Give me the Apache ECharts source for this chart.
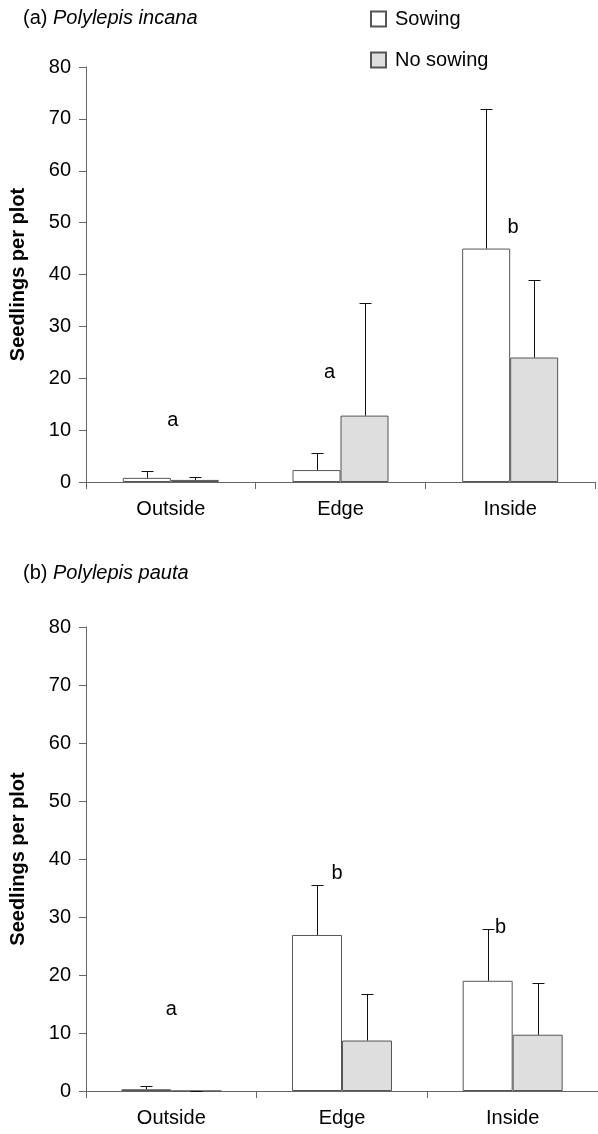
<!DOCTYPE html>
<html><head><meta charset="utf-8">
<script src="https://cdn.jsdelivr.net/npm/echarts@6/dist/echarts.min.js"></script>
<style>html,body{margin:0;padding:0;background:#fff}#c{width:598px;height:1134px}</style>
</head><body><div id="c"></div>
<script>
const categories = ['Outside', 'Edge', 'Inside'];
const seriesNames = ['Sowing', 'No sowing'];
const yTicks = { min: 0, max: 80, interval: 10 };

// Panel (a) Polylepis incana
const aSowing = [0.8, 2.3, 45];
const aSowingErr = [1.3, 3.3, 27];
const aNoSowing = [0.4, 12.8, 24];
const aNoSowingErr = [0.6, 21.7, 15];
const aLetters = [['a', 11.9], ['a', 21.2], ['b', 49]];

// Panel (b) Polylepis pauta
const bSowing = [0.3, 26.9, 19.0];
const bSowingErr = [0.6, 8.7, 9.0];
const bNoSowing = [0, 8.7, 9.7];
const bNoSowingErr = [0.05, 8.0, 9.0];
const bLetters = [['a', 14.1], ['b', 37.5], ['b', 28.2]];

// style-only offsets for the letters (pixels)
const aLetterDx = [2, -11, 3];
const bLetterDx = [0, -5, -12];

const FONT = 'Liberation Sans, Arial, Helvetica, sans-serif';
const AXIS_COLOR = '#666';
const BORDER = '#555';
const GRAY_FILL = '#dedede';

const chart = echarts.init(document.getElementById('c'), null, { renderer: 'canvas' });

function errSeries(name, grid, means, errs, offset) {
  return {
    type: 'custom', name: name + ' err', xAxisIndex: grid, yAxisIndex: grid, z: 5,
    silent: true,
    data: means.map((m, i) => [i, m, errs[i]]),
    renderItem: function (params, api) {
      const i = api.value(0), m = api.value(1), e = api.value(2);
      const p0 = api.coord([i, m]);
      const p1 = api.coord([i, m + e]);
      const x = Math.round(p0[0] + offset) + 0.5;
      const y1 = Math.round(p1[1]) + 0.5;
      const children = [
        { type: 'line', shape: { x1: x, y1: p0[1], x2: x, y2: y1 }, style: { stroke: '#111', lineWidth: 1 } },
        { type: 'line', shape: { x1: x - 6, y1: y1, x2: x + 6, y2: y1 }, style: { stroke: '#111', lineWidth: 1 } }
      ];
      return { type: 'group', children: children };
    }
  };
}

function letterSeries(grid, letters, dx) {
  return {
    type: 'custom', xAxisIndex: grid, yAxisIndex: grid, z: 6, silent: true,
    data: letters.map((l, i) => [i, l[1], l[0]]),
    renderItem: function (params, api) {
      const p = api.coord([api.value(0), api.value(1)]);
      return {
        type: 'text', x: p[0] + dx[params.dataIndex], y: p[1],
        style: { text: letters[params.dataIndex][0], fill: '#000', font: '20px ' + FONT, align: 'center', verticalAlign: 'middle' }
      };
    }
  };
}

function barSeries(name, grid, data, fill, width) {
  return {
    type: 'bar', name: name, xAxisIndex: grid, yAxisIndex: grid, data: data,
    barWidth: width, barGap: '0%',
    itemStyle: { color: fill, borderColor: BORDER, borderWidth: 1 },
    emphasis: { disabled: true }, z: 3
  };
}

function xAxis(grid) {
  return {
    type: 'category', gridIndex: grid, data: categories,
    axisLine: { lineStyle: { color: AXIS_COLOR, width: 1 } },
    axisTick: { show: true, length: 7, lineStyle: { color: AXIS_COLOR } },
    axisLabel: { color: '#000', fontSize: 20, fontFamily: FONT, margin: 17 },
    splitLine: { show: false }
  };
}
function yAxis(grid) {
  return {
    type: 'value', gridIndex: grid, min: yTicks.min, max: yTicks.max, interval: yTicks.interval,
    name: 'Seedlings per plot', nameLocation: 'middle', nameGap: 58,
    nameTextStyle: { color: '#000', fontSize: 20, fontWeight: 'bold', fontFamily: FONT },
    axisLine: { show: true, lineStyle: { color: AXIS_COLOR, width: 1 } },
    axisTick: { show: true, length: 7, lineStyle: { color: AXIS_COLOR } },
    axisLabel: { color: '#000', fontSize: 20, fontFamily: FONT, margin: 15 },
    splitLine: { show: false }
  };
}

const titleRich = {
  n: { fontSize: 20, fontFamily: FONT, color: '#000', fontWeight: 'normal' },
  i: { fontSize: 20, fontFamily: FONT, color: '#000', fontStyle: 'italic', fontWeight: 'normal' }
};

chart.setOption({
  animation: false,
  backgroundColor: '#fff',
  title: [
    { text: '{n|(a) }{i|Polylepis incana}', left: 18, top: 3, textStyle: { fontWeight: 'normal', rich: titleRich } },
    { text: '{n|(b) }{i|Polylepis pauta}', left: 18, top: 558, textStyle: { fontWeight: 'normal', rich: titleRich } }
  ],
  legend: {
    data: seriesNames, orient: 'vertical', left: 370, top: 9, padding: 0,
    itemWidth: 15, itemHeight: 15, itemGap: 21, icon: 'rect',
    textStyle: { fontSize: 20, fontFamily: FONT, color: '#000', padding: [0, 0, 0, 4] },
    selectedMode: false
  },
  grid: [
    { left: 85, right: 3, top: 67, height: 415 },
    { left: 85, right: -9, top: 627, height: 464 }
  ],
  xAxis: [xAxis(0), xAxis(1)],
  yAxis: [yAxis(0), yAxis(1)],
  series: [
    barSeries(seriesNames[0], 0, aSowing, '#fff', 48),
    barSeries(seriesNames[1], 0, aNoSowing, GRAY_FILL, 48),
    barSeries(seriesNames[0], 1, bSowing, '#fff', 50),
    barSeries(seriesNames[1], 1, bNoSowing, GRAY_FILL, 50),
    errSeries('a S', 0, aSowing, aSowingErr, -24),
    errSeries('a NS', 0, aNoSowing, aNoSowingErr, 24),
    errSeries('b S', 1, bSowing, bSowingErr, -25),
    errSeries('b NS', 1, bNoSowing, bNoSowingErr, 25),
    letterSeries(0, aLetters, aLetterDx),
    letterSeries(1, bLetters, bLetterDx)
  ]
});
</script></body></html>
